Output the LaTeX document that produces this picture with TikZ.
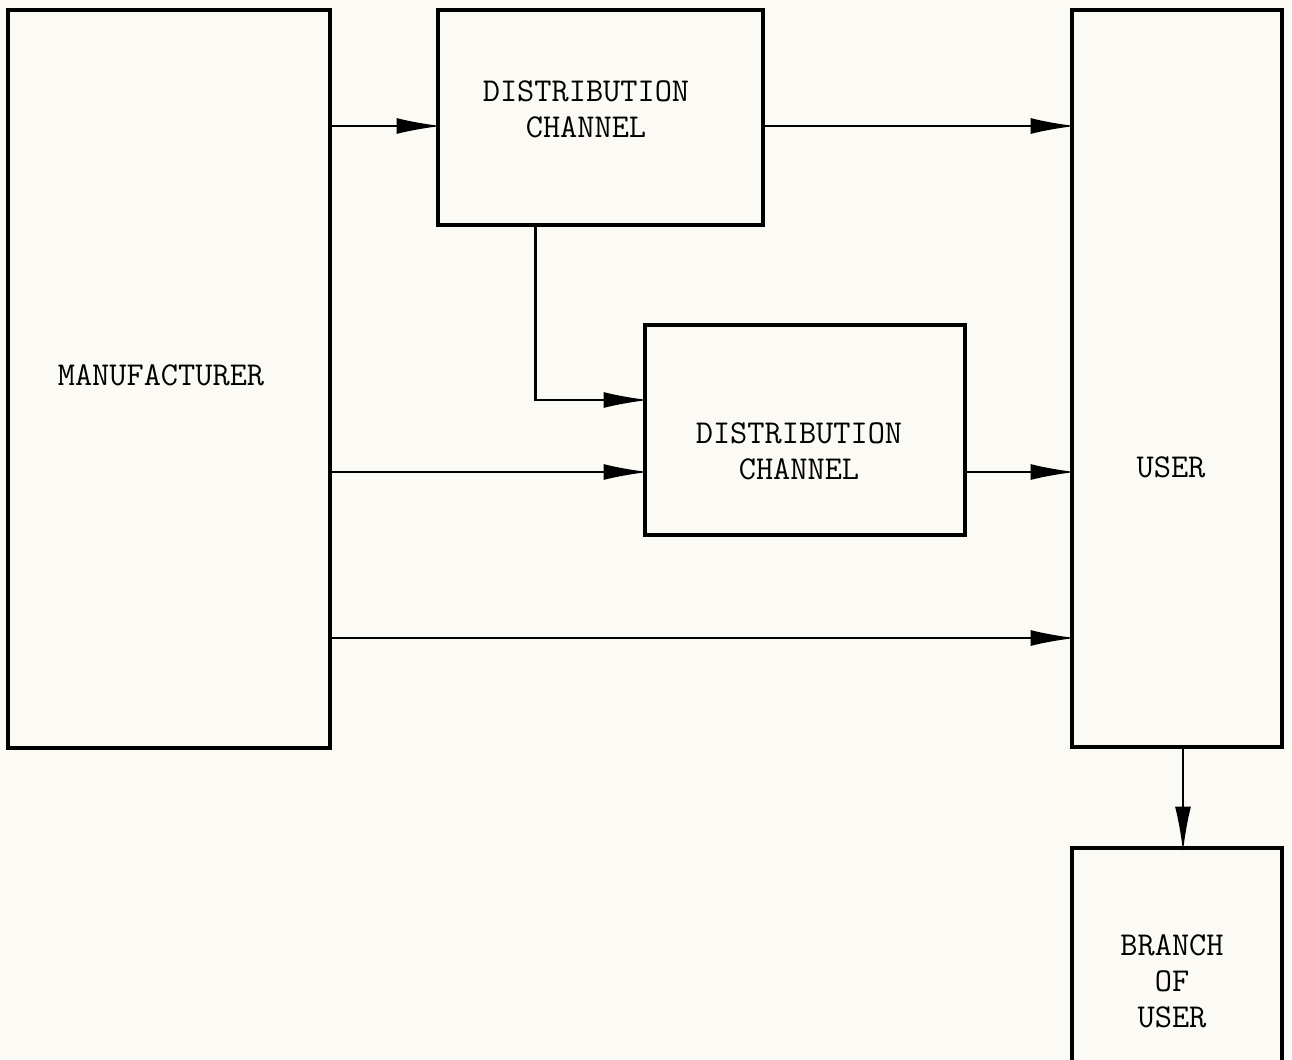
\documentclass[tikz,border=0pt]{standalone}
\usepackage{tikz}
\usetikzlibrary{positioning,calc,arrows.meta}
\definecolor{paper}{RGB}{252,250,245}

\begin{document}
\begin{tikzpicture}[x=0.02cm,y=-0.02cm]
	\tikzset{
		box/.style={rectangle, draw=black, line width=2pt, fill=paper, inner sep=0pt, outer sep=0pt, align=center,
			font=\ttfamily\fontsize{19}{20.5}\selectfont},
		boxtext/.style={align=center, font=\ttfamily\fontsize{19}{20.5}\selectfont},
		flow/.style={-{Latex[length=0.9cm,width=0.32cm]}, line width=1.2pt, shorten >=-2pt}
	}
	\fill[paper] (0,0) rectangle (1292,1059);
	\useasboundingbox (0,0) rectangle (1292,1059);
	\clip (0,0) rectangle (1292,1059);

	\node[box, minimum width=322*0.02cm, minimum height=738*0.02cm] (manuf) at (169,379) {};
	\node[boxtext] (manufText) at (161,375) {MANUFACTURER};
	\node[box, minimum width=325*0.02cm, minimum height=215*0.02cm] (dc1) at (600.5,117.5) {};
	\node[boxtext] (dc1Text) at (586,109) {DISTRIBUTION\\CHANNEL};
	\node[box, minimum width=320*0.02cm, minimum height=210*0.02cm] (dc2) at (805,430) {};
	\node[boxtext] (dc2Text) at (799,451) {DISTRIBUTION\\CHANNEL};
	\node[box, minimum width=210*0.02cm, minimum height=737*0.02cm] (user) at (1177,378.5) {};
	\node[boxtext] (userText) at (1171,467) {USER};
	\node[box, minimum width=210*0.02cm, minimum height=266*0.02cm] (branch) at (1177,981) {};
	\node[boxtext] (branchText) at (1172,981) {BRANCH\\OF\\USER};

	\coordinate (rowA) at (0,126);
	\coordinate (rowB) at (0,400);
	\coordinate (rowC) at (0,472);
	\coordinate (rowD) at (0,638);
	\coordinate (drop) at ($(dc1.south west)!0.3!(dc1.south east)$);

	\draw[flow] (manuf.east |- rowA) -- (dc1.west |- rowA);
	\draw[flow] (dc1.east |- rowA) -- (user.west |- rowA);
	\draw[flow] (drop) |- (dc2.west |- rowB);
	\draw[flow] (manuf.east |- rowC) -- (dc2.west |- rowC);
	\draw[flow] (dc2.east |- rowC) -- (user.west |- rowC);
	\draw[flow] (manuf.east |- rowD) -- (user.west |- rowD);
	\draw[flow] (user.south -| 1183,0) -- (branch.north -| 1183,0);
\end{tikzpicture}
\end{document}
